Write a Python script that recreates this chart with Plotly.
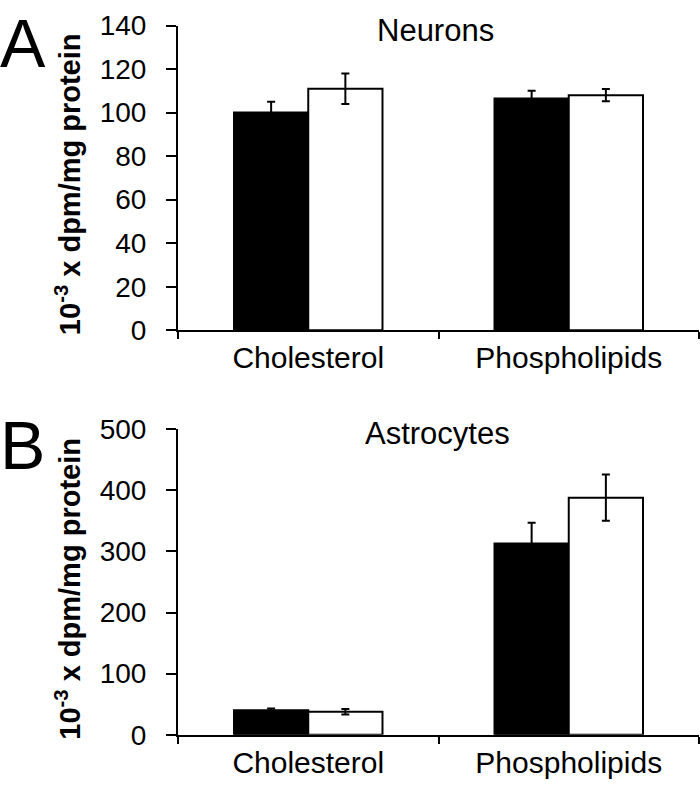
import plotly.graph_objects as go

categories = ["Cholesterol", "Phospholipids"]

neurons_black = [100, 106.5]
neurons_black_err = [5, 3.5]
neurons_white = [111, 108]
neurons_white_err = [7, 2.8]

astro_black = [40, 313]
astro_black_err = [3, 34]
astro_white = [37.5, 388]
astro_white_err = [4.5, 38]

neurons_ticks = [0, 20, 40, 60, 80, 100, 120, 140]
astro_ticks = [0, 100, 200, 300, 400, 500]

FONT = "Liberation Sans, Arial, sans-serif"
W, H = 700, 795


def px_x(x):
    return x / W


def px_y(y):
    return 1 - y / H


fig = go.Figure()


def add_pair(black, black_err, white, white_err, xa, ya):
    fig.add_trace(go.Bar(
        x=categories, y=black, name="Control", xaxis=xa, yaxis=ya,
        marker=dict(color="black", line=dict(color="black", width=2)),
        error_y=dict(type="data", array=black_err, color="black", thickness=2, width=4),
        showlegend=False,
    ))
    fig.add_trace(go.Bar(
        x=categories, y=white, name="Treated", xaxis=xa, yaxis=ya,
        marker=dict(color="white", line=dict(color="black", width=2)),
        error_y=dict(type="data", array=white_err, color="black", thickness=2, width=4),
        showlegend=False,
    ))


add_pair(neurons_black, neurons_black_err, neurons_white, neurons_white_err, "x", "y")
add_pair(astro_black, astro_black_err, astro_white, astro_white_err, "x2", "y2")

xdom = [px_x(178), px_x(699)]
common_x = dict(
    domain=xdom, range=[-0.5, 1.5], type="category",
    showline=True, linecolor="black", linewidth=2,
    ticks="outside", tickson="boundaries", ticklen=7, tickwidth=2, tickcolor="black",
    tickfont=dict(family=FONT, size=30, color="black"),
    showgrid=False, zeroline=False, fixedrange=True,
)
common_y = dict(
    showline=True, linecolor="black", linewidth=2,
    ticks="outside", ticklen=10, tickwidth=2, tickcolor="black",
    tickfont=dict(family=FONT, size=28, color="black"),
    ticklabelstandoff=14,
    showgrid=False, zeroline=False, fixedrange=True,
)

fig.update_layout(
    width=W, height=H,
    margin=dict(l=0, r=0, t=0, b=0),
    paper_bgcolor="white", plot_bgcolor="white",
    barmode="group", bargap=0.43, bargroupgap=0,
    showlegend=False,
    xaxis=dict(anchor="y", **common_x),
    yaxis=dict(anchor="x", domain=[px_y(328), px_y(11)], range=[0, 140],
               tickvals=neurons_ticks, **common_y),
    xaxis2=dict(anchor="y2", **common_x),
    yaxis2=dict(anchor="x2", domain=[px_y(749), px_y(431)], range=[0, 500],
                tickvals=astro_ticks, **common_y),
)

ytitle = "<b>10<sup>-3</sup> x dpm/mg protein</b>"
annos = [
    dict(text="A", x=px_x(23), y=px_y(29), font=dict(size=68)),
    dict(text="B", x=px_x(22), y=px_y(447), font=dict(size=68)),
    dict(text="Neurons", x=px_x(435), y=px_y(16), font=dict(size=31)),
    dict(text="Astrocytes", x=px_x(437), y=px_y(436), font=dict(size=31)),
    dict(text=ytitle, x=px_x(68), y=px_y(176), textangle=-90, font=dict(size=29)),
    dict(text=ytitle, x=px_x(68), y=px_y(597), textangle=-90, font=dict(size=29)),
]
for a in annos:
    a["font"].update(family=FONT, color="black")
    fig.add_annotation(xref="paper", yref="paper", xanchor="center", yanchor="middle",
                       showarrow=False, **a)

fig.write_html("out.html",
               config={"displayModeBar": False, "staticPlot": True},
               post_script="document.body.style.margin='0';document.body.style.overflow='hidden';")
